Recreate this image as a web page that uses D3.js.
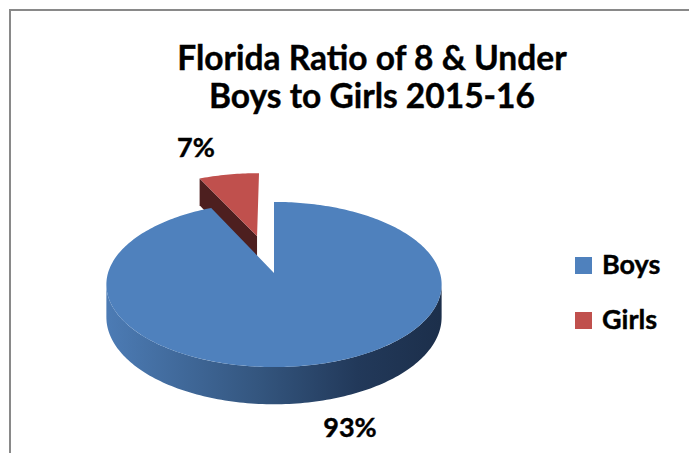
<!DOCTYPE html>
<html>
<head>
<meta charset="utf-8">
<script src="https://cdn.jsdelivr.net/npm/d3@7"></script>
<style>
  body { margin: 0; background: #fff; }
  text { font-family: Lato, "Open Sans", sans-serif; font-weight: bold; fill: #000; stroke: #000; stroke-width: 0.4px; }
</style>
</head>
<body>
<div id="chart"></div>
<script>
// data
var categories = ["Boys", "Girls"];
var values = [93, 7];
var labels = ["93%", "7%"];
var titleLines = ["Florida Ratio of 8 & Under", "Boys to Girls 2015-16"];
var colors = ["#4f81bd", "#c0504d"];

var W = 689, H = 453;
var svg = d3.select("#chart").append("svg")
    .attr("width", W)
    .attr("height", H);

// chart frame
svg.append("rect")
    .attr("x", 10).attr("y", 10)
    .attr("width", 700).attr("height", 500)
    .attr("fill", "none")
    .attr("stroke", "#898989")
    .attr("stroke-width", 2);

// title
svg.selectAll(".title").data(titleLines).enter().append("text")
    .attr("class", "title")
    .attr("x", 372)
    .attr("y", function(d, i) { return 70 + i * 38; })
    .attr("text-anchor", "middle")
    .style("font-size", "33.5px")
    .text(function(d) { return d; });

// 3d pie with a bit of perspective
var cx = 274, cy = 273, A = 166, B = 81, persp = 0.139, depth = 32, explode = 0.5;

function proj(u, v, h) {
  var s = 1 / (1 - persp * v);
  return [cx + A * u * s, cy + (B * v + depth * h) * s];
}
// angle measured clockwise from 12 o'clock
function pt(a, r, off, h) {
  return proj(off[0] + r * Math.sin(a), off[1] - r * Math.cos(a), h);
}

var pie = d3.pie().sort(null).value(function(d) { return d; });
var arcs = pie(values);
arcs.forEach(function(d, i) {
  var mid = (d.startAngle + d.endAngle) / 2;
  d.off = i === 1 ? [explode * Math.sin(mid), -explode * Math.cos(mid)] : [0, 0];
});

var line = d3.line();
function arcPts(a0, a1, off, h) {
  var n = Math.max(2, Math.ceil(Math.abs(a1 - a0) / 0.02));
  return d3.range(n + 1).map(function(k) { return pt(a0 + (a1 - a0) * k / n, 1, off, h); });
}

var defs = svg.append("defs");
var grad = defs.append("linearGradient").attr("id", "sideGrad")
    .attr("gradientUnits", "userSpaceOnUse")
    .attr("x1", cx - A).attr("x2", cx + A).attr("y1", 0).attr("y2", 0);
[["0%", "#4c7bb4"], ["45%", "#34567f"], ["75%", "#22395a"], ["100%", "#1c2f4b"]].forEach(function(s) {
  grad.append("stop").attr("offset", s[0]).attr("stop-color", s[1]);
});

var pieG = svg.append("g");

// girls (exploded, behind) drawn first
var g = arcs[1];
pieG.append("path")
    .attr("d", line([pt(0, 0, g.off, 0), pt(g.startAngle, 1, g.off, 0), pt(g.startAngle, 1, g.off, 1), pt(0, 0, g.off, 1)]) + "Z")
    .attr("fill", "#4d1f1f");
pieG.append("path")
    .attr("d", line([pt(0, 0, g.off, 0)].concat(arcPts(g.startAngle, g.endAngle, g.off, 0))) + "Z")
    .attr("fill", colors[1]);

// boys: front side then top
var b = arcs[0];
var sideA0 = Math.acos(-persp), sideA1 = 2 * Math.PI - sideA0;
pieG.append("path")
    .attr("d", line(arcPts(sideA0, sideA1, b.off, 0).concat(arcPts(sideA1, sideA0, b.off, 1))) + "Z")
    .attr("fill", "url(#sideGrad)");
pieG.append("path")
    .attr("d", line([pt(0, 0, b.off, 0)].concat(arcPts(b.startAngle, b.endAngle, b.off, 0))) + "Z")
    .attr("fill", colors[0]);

// data labels
var labelPos = [[350, 437], [196, 157]];
svg.selectAll(".lbl").data(labels).enter().append("text")
    .attr("class", "lbl")
    .attr("x", function(d, i) { return labelPos[i][0]; })
    .attr("y", function(d, i) { return labelPos[i][1]; })
    .attr("text-anchor", "middle")
    .style("font-size", "27px")
    .text(function(d) { return d; });

// legend
var leg = svg.selectAll(".leg").data(categories).enter().append("g")
    .attr("class", "leg")
    .attr("transform", function(d, i) { return "translate(575," + (257 + i * 55) + ")"; });
leg.append("rect").attr("width", 17).attr("height", 17)
    .attr("fill", function(d, i) { return colors[i]; });
leg.append("text").attr("x", 27).attr("y", 17)
    .style("font-size", "27px")
    .text(function(d) { return d; });
</script>
</body>
</html>
